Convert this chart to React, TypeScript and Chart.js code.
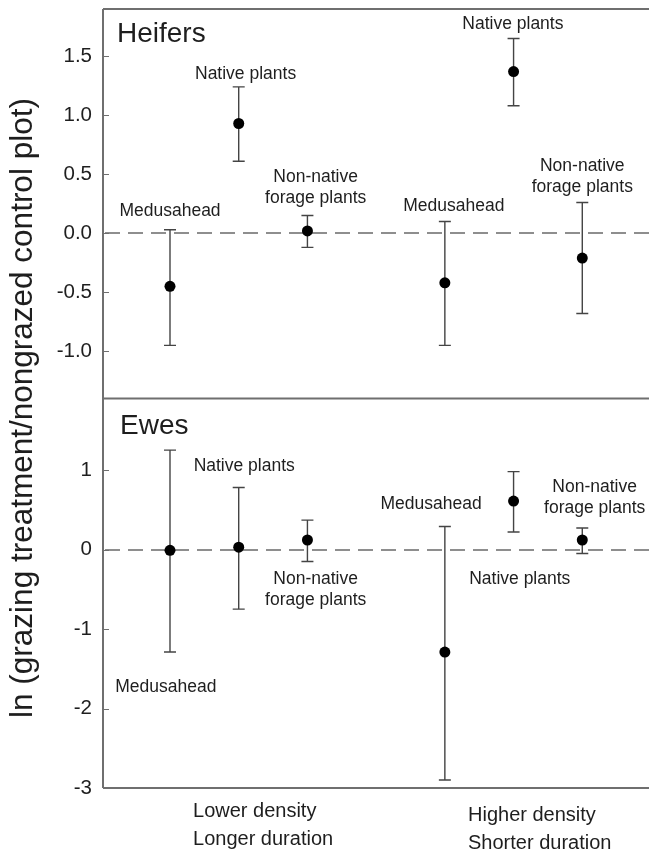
import React, { useEffect, useRef } from "react";
import { Chart, registerables } from "chart.js";

Chart.register(...registerables);

// ---- data ----
const categories = ["Medusahead", "Native plants", "Non-native forage plants"];
const xPositions = [1, 2, 3, 5, 6, 7];
const groupLabels = [
  ["Lower density", "Longer duration"],
  ["Higher density", "Shorter duration"],
];
const groupLabelX = [1.335, 5.337];

const heifersMean = [-0.45, 0.93, 0.02, -0.42, 1.37, -0.21];
const heifersUpper = [0.03, 1.24, 0.15, 0.10, 1.65, 0.26];
const heifersLower = [-0.95, 0.61, -0.12, -0.95, 1.08, -0.68];

const ewesMean = [-0.01, 0.03, 0.12, -1.29, 0.61, 0.12];
const ewesUpper = [1.25, 0.78, 0.37, 0.29, 0.98, 0.27];
const ewesLower = [-1.29, -0.75, -0.15, -2.90, 0.22, -0.05];

const heifersTicks = [-1.0, -0.5, 0.0, 0.5, 1.0, 1.5];
const ewesTicks = [-3, -2, -1, 0, 1];

const yTitle = "ln (grazing treatment/nongrazed control plot)";

// label anchors (x value, y value) in each panel
const heifersLabels = [
  { lines: ["Medusahead"], x: 1.0, y: 0.19 },
  { lines: ["Native plants"], x: 2.1, y: 1.35 },
  { lines: ["Non-native", "forage plants"], x: 3.12, y: 0.39 },
  { lines: ["Medusahead"], x: 5.13, y: 0.23 },
  { lines: ["Native plants"], x: 5.99, y: 1.77 },
  { lines: ["Non-native", "forage plants"], x: 7.0, y: 0.48 },
];
const ewesLabels = [
  { lines: ["Medusahead"], x: 0.94, y: -1.73 },
  { lines: ["Native plants"], x: 2.08, y: 1.05 },
  { lines: ["Non-native", "forage plants"], x: 3.12, y: -0.5 },
  { lines: ["Medusahead"], x: 4.8, y: 0.57 },
  { lines: ["Native plants"], x: 6.09, y: -0.37 },
  { lines: ["Non-native", "forage plants"], x: 7.18, y: 0.65 },
];

const FONT = "'Liberation Sans', Arial, sans-serif";
const FRAME = "#6f6f6f";
const TEXT = "#1e1e1e";

const framePlugin = {
  id: "frame",
  beforeDatasetsDraw(chart: any) {
    const { ctx, chartArea } = chart;
    const x = chart.scales.x;
    const yH = chart.scales.yH;
    const yE = chart.scales.yE;
    const L = chartArea.left;
    const R = chart.width;
    ctx.save();
    // dashed zero lines
    ctx.strokeStyle = "#8e8e8e";
    ctx.lineWidth = 2;
    ctx.setLineDash([15, 8]);
    [yH, yE].forEach((s: any) => {
      const py = Math.round(s.getPixelForValue(0));
      ctx.beginPath();
      ctx.moveTo(L + 2, py);
      ctx.lineTo(R, py);
      ctx.stroke();
    });
    ctx.setLineDash([]);
    // frame
    ctx.strokeStyle = FRAME;
    ctx.lineWidth = 2;
    ctx.beginPath();
    ctx.moveTo(L, yH.top);
    ctx.lineTo(L, yE.bottom);
    ctx.moveTo(L, yH.top);
    ctx.lineTo(R, yH.top);
    ctx.moveTo(L, yH.bottom);
    ctx.lineTo(R, yH.bottom);
    ctx.moveTo(L, yE.bottom);
    ctx.lineTo(R, yE.bottom);
    ctx.stroke();
    // inner ticks
    ctx.lineWidth = 1;
    ctx.beginPath();
    heifersTicks.forEach((t) => {
      const py = Math.round(yH.getPixelForValue(t)) + 0.5;
      ctx.moveTo(L, py);
      ctx.lineTo(L + 6, py);
    });
    ewesTicks.forEach((t) => {
      const py = Math.round(yE.getPixelForValue(t)) + 0.5;
      ctx.moveTo(L, py);
      ctx.lineTo(L + 6, py);
    });
    ctx.stroke();
    // error bars
    ctx.strokeStyle = "#444";
    ctx.lineWidth = 1.4;
    const drawBars = (s: any, lo: number[], hi: number[]) => {
      xPositions.forEach((xv, i) => {
        const px = x.getPixelForValue(xv);
        const p1 = s.getPixelForValue(lo[i]);
        const p2 = s.getPixelForValue(hi[i]);
        ctx.beginPath();
        ctx.moveTo(px, p1);
        ctx.lineTo(px, p2);
        ctx.moveTo(px - 6, p1);
        ctx.lineTo(px + 6, p1);
        ctx.moveTo(px - 6, p2);
        ctx.lineTo(px + 6, p2);
        ctx.stroke();
      });
    };
    drawBars(yH, heifersLower, heifersUpper);
    drawBars(yE, ewesLower, ewesUpper);
    ctx.restore();
  },
  afterDatasetsDraw(chart: any) {
    const { ctx, chartArea } = chart;
    const x = chart.scales.x;
    const yH = chart.scales.yH;
    const yE = chart.scales.yE;
    ctx.save();
    ctx.fillStyle = TEXT;
    // annotation labels
    ctx.font = `17.5px ${FONT}`;
    ctx.textAlign = "center";
    ctx.textBaseline = "middle";
    const drawLabels = (s: any, labels: any[]) => {
      labels.forEach((lb) => {
        const px = x.getPixelForValue(lb.x);
        const py = s.getPixelForValue(lb.y);
        const n = lb.lines.length;
        lb.lines.forEach((t: string, k: number) => {
          ctx.fillText(t, px, py + (k - (n - 1) / 2) * 21);
        });
      });
    };
    drawLabels(yH, heifersLabels);
    drawLabels(yE, ewesLabels);
    // panel titles
    ctx.textAlign = "left";
    ctx.textBaseline = "alphabetic";
    ctx.font = `28px ${FONT}`;
    ctx.fillText("Heifers", chartArea.left + 14, yH.top + 33);
    ctx.fillText("Ewes", chartArea.left + 17, yE.top + 35);
    // group labels
    ctx.font = `20px ${FONT}`;
    groupLabels.forEach((lines, g) => {
      const px = x.getPixelForValue(groupLabelX[g]);
      lines.forEach((t, k) => {
        ctx.fillText(t, px, yE.bottom + 29 + g * 4 + k * 28);
      });
    });
    // y title
    ctx.font = `31.5px ${FONT}`;
    ctx.textAlign = "center";
    ctx.textBaseline = "middle";
    ctx.translate(23, yH.top + 399);
    ctx.rotate(-Math.PI / 2);
    ctx.fillText(yTitle, 0, 0);
    ctx.restore();
  },
};

export default function App() {
  const ref = useRef<HTMLCanvasElement>(null);
  useEffect(() => {
    if (!ref.current) return;
    const mk = (mean: number[], axis: string) => ({
      type: "scatter" as const,
      data: xPositions.map((xv, i) => ({ x: xv, y: mean[i] })),
      yAxisID: axis,
      pointRadius: 5.5,
      pointHoverRadius: 5.5,
      pointBackgroundColor: "#000",
      pointBorderWidth: 0,
      showLine: false,
    });
    const fit = (s: any) => {
      s.width = 103;
      s.paddingTop = 0;
      s.paddingBottom = 0;
    };
    const chart = new Chart(ref.current, {
      type: "scatter",
      data: {
        datasets: [mk(heifersMean, "yH"), mk(ewesMean, "yE")] as any,
      },
      options: {
        animation: false,
        responsive: false,
        events: [],
        layout: { padding: { left: 0, top: 9, right: 9, bottom: 66 } },
        plugins: { legend: { display: false }, tooltip: { enabled: false } },
        scales: {
          x: {
            type: "linear",
            min: 0.025,
            max: 8,
            display: false,
          },
          yE: {
            type: "linear",
            position: "left",
            stack: "panels",
            stackWeight: 1,
            min: -3,
            max: 1.9,
            afterFit: fit,
            afterBuildTicks: (s: any) => {
              s.ticks = ewesTicks.map((v) => ({ value: v }));
            },
            grid: { display: false, drawTicks: false },
            border: { display: false },
            ticks: {
              padding: 11,
              color: TEXT,
              font: { family: FONT, size: 20.5 },
              callback: (v: any) => String(v),
            },
          },
          yH: {
            type: "linear",
            position: "left",
            stack: "panels",
            stackWeight: 1,
            min: -1.4,
            max: 1.9,
            afterFit: fit,
            afterBuildTicks: (s: any) => {
              s.ticks = heifersTicks.map((v) => ({ value: v }));
            },
            grid: { display: false, drawTicks: false },
            border: { display: false },
            ticks: {
              padding: 11,
              color: TEXT,
              font: { family: FONT, size: 20.5 },
              callback: (v: any) => Number(v).toFixed(1),
            },
          },
        } as any,
      },
      plugins: [framePlugin],
    });
    return () => chart.destroy();
  }, []);
  return (
    <div
      style={{
        position: "absolute",
        left: 0,
        top: 0,
        width: 649,
        height: 854,
        overflow: "hidden",
        background: "#fff",
      }}
    >
      <canvas ref={ref} width={660} height={854} style={{ display: "block" }} />
    </div>
  );
}
